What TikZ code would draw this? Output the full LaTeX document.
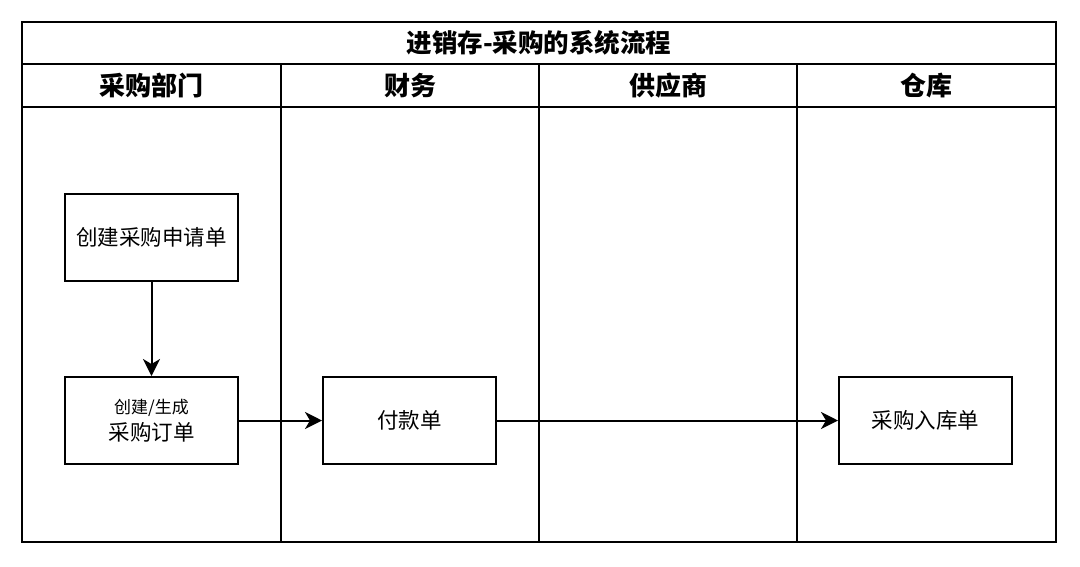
\documentclass[tikz,border=0pt]{standalone}
\usepackage{fontspec}
\setmainfont{Noto Sans CJK SC}
\usetikzlibrary{arrows.meta}
\begin{document}
\begin{tikzpicture}[x=1pt,y=-1pt,
  frame/.style={draw=black,line width=2pt},
  hdr/.style={font=\bfseries\fontsize{26}{30}\selectfont,inner sep=0pt},
  ttl/.style={font=\bfseries\fontsize{25.5}{30}\selectfont,inner sep=0pt},
  procbox/.style={draw=black,line width=2pt,minimum width=173pt,minimum height=87pt,inner sep=0pt,align=center,font=\fontsize{21.5}{26}\selectfont},
  flow/.style={draw=black,line width=2pt,-{Stealth[length=17pt,width=17pt,inset=5pt]}}]
\useasboundingbox (0,0) rectangle (1080,566);
% frame and lanes
\draw[frame] (22,22) rectangle (1056,542);
\draw[frame] (22,64) -- (1056,64);
\draw[frame] (22,107) -- (1056,107);
\draw[frame] (281,64) -- (281,542);
\draw[frame] (539,64) -- (539,542);
\draw[frame] (797,64) -- (797,542);
% texts
\node[ttl] (title) at (539,43) {进销存-采购的系统流程};
\node[hdr] (h1) at (151.5,85.5) {采购部门};
\node[hdr] (h2) at (410,85.5) {财务};
\node[hdr] (h3) at (668,85.5) {供应商};
\node[hdr] (h4) at (926.5,85.5) {仓库};
% boxes
\node[procbox] (req) at (151.5,237) {创建采购申请单};
\node[procbox] (po) at (151.5,420.5) {{\fontsize{17}{21}\selectfont 创建/生成}\\[1pt]采购订单};
\node[procbox] (pay) at (409.5,420.5) {付款单};
\node[procbox] (in) at (925.5,420.5) {采购入库单};
% connectors
\draw[flow] (req) -- (po);
\draw[flow] (po) -- (pay);
\draw[flow] (pay) -- (in);
\end{tikzpicture}
\end{document}
